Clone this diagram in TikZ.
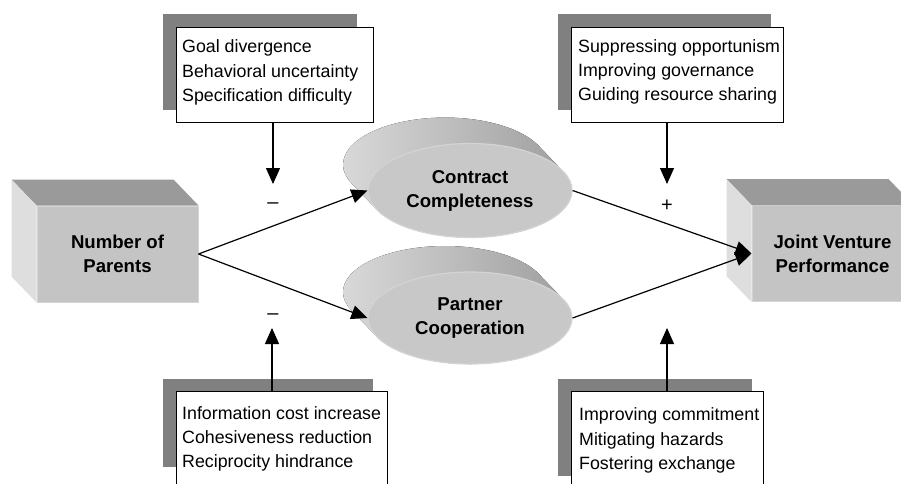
\documentclass[tikz,border=0pt]{standalone}
\usepackage{fontspec}
\setmainfont{Liberation Sans}
\usetikzlibrary{arrows.meta,calc,shapes.geometric}

\definecolor{frontgray}{HTML}{C4C4C4}
\definecolor{topgray}{HTML}{9A9A9A}
\definecolor{sidegray}{HTML}{DEDEDE}
\definecolor{rimgray}{HTML}{D4D4D4}
\definecolor{shadowgray}{HTML}{808080}
\definecolor{discgray}{HTML}{C8C8C8}
\definecolor{extlight}{HTML}{DCDCDC}
\definecolor{extdark}{HTML}{9A9A9A}

\tikzset{
  boxface/.style={rectangle, fill=frontgray, draw=rimgray, line width=1pt,
    minimum width=161pt, minimum height=96pt, inner sep=0pt, align=center,
    font=\bfseries\fontsize{18.6}{24}\selectfont},
  topface/.style={fill=topgray},
  sideface/.style={fill=sidegray},
  disc/.style={ellipse, fill=discgray, draw=rimgray, line width=1.2pt,
    minimum width=204pt, minimum height=94pt, inner sep=0pt, align=center,
    font=\bfseries\fontsize{18.6}{24}\selectfont},
  discbody/.style={left color=extlight, right color=extdark},
  notebox/.style={rectangle, fill=white, draw=black, line width=0.8pt, inner sep=0pt},
  notetext/.style={anchor=west, align=left, inner sep=0pt,
    font=\fontsize{17.8}{24.3}\selectfont},
  shadowbox/.style={fill=shadowgray},
  link/.style={line width=1.2pt, -{Triangle[length=16pt,width=14pt]}},
  sign/.style={font=\fontsize{20}{20}\selectfont, inner sep=0pt}
}

\begin{document}
\begin{tikzpicture}[x=1pt,y=-1pt]
\useasboundingbox (0,0) rectangle (901,483);
\clip (0,0) rectangle (901,483);
\fill[white] (0,0) rectangle (901,483);

% ---- note boxes with drop shadows ----
\fill[shadowbox] (163,14) rectangle (357,110);
\node[notebox, minimum width=197pt, minimum height=95pt] (tl) at (274.5,74.5) {};
\node[notetext] (tltext) at (182,72.5) {Goal divergence\\Behavioral uncertainty\\Specification difficulty};

\fill[shadowbox] (558,14) rectangle (771,110);
\node[notebox, minimum width=212pt, minimum height=95pt] (tr) at (677,74.5) {};
\node[notetext] (trtext) at (578,72) {Suppressing opportunism\\Improving governance\\Guiding resource sharing};

\fill[shadowbox] (163,379) rectangle (373,467);
\node[notebox, minimum width=211pt, minimum height=120pt] (bl) at (281.5,451) {};
\node[notetext] (bltext) at (182,439) {Information cost increase\\Cohesiveness reduction\\Reciprocity hindrance};

\fill[shadowbox] (558,379) rectangle (752,476);
\node[notebox, minimum width=192pt, minimum height=120pt] (br) at (667,451) {};
\node[notetext] (brtext) at (579,440.5) {Improving commitment\\Mitigating hazards\\Fostering exchange};

% ---- solid boxes ----
\node[boxface] (np) at (117.5,254) {Number of\\Parents};
\fill[topface] (np.north west) -- (np.north east) -- ++(-25,-26)
  -- ($(np.north west)+(-25,-26)$) -- cycle;
\fill[sideface] (np.north west) -- (np.south west) -- ++(-25,-26)
  -- ($(np.north west)+(-25,-26)$) -- cycle;

\node[boxface] (jv) at (832.5,253.5) {Joint Venture\\Performance};
\fill[topface] (jv.north west) -- (jv.north east) -- ++(-25,-26)
  -- ($(jv.north west)+(-25,-26)$) -- cycle;
\fill[sideface] (jv.north west) -- (jv.south west) -- ++(-25,-26)
  -- ($(jv.north west)+(-25,-26)$) -- cycle;

% ---- extruded discs: hull of the back and front ellipses ----
\coordinate (ccpos) at (470,190.5);
\coordinate (pcpos) at (470,318);
\fill[discbody] ($(ccpos)+(68.3,-45.0)$)
  arc[start angle=-23.9, end angle=-203.9, x radius=102, y radius=47]
  -- ($(ccpos)+(-93.3,19.0)$)
  arc[start angle=156.1, end angle=-23.9, x radius=102, y radius=47]
  -- cycle;
\fill[discbody] ($(pcpos)+(68.57,-44.3)$)
  arc[start angle=-23.45, end angle=-203.45, x radius=102, y radius=46]
  -- ($(pcpos)+(-93.57,18.3)$)
  arc[start angle=156.55, end angle=-23.45, x radius=102, y radius=46]
  -- cycle;
\node[disc] (cc) at (ccpos) {Contract\\Completeness};
\node[disc, minimum height=92pt] (pc) at (pcpos) {Partner\\Cooperation};

% ---- connectors ----
\draw[link] (np.east) -- (cc.west);
\draw[link] (np.east) -- (pc.west);
\draw[link] (cc.east) -- (jv.west);
\draw[link] (pc.east) -- (jv.west);

\coordinate (t1) at (273,184);
\coordinate (t2) at (667,184);
\coordinate (b1) at (272,328);
\coordinate (b2) at (667,328);
\draw[link] (tl.south -| t1) -- (t1);
\draw[link] (tr.south -| t2) -- (t2);
\draw[link] (bl.north -| b1) -- (b1);
\draw[link] (br.north -| b2) -- (b2);

% ---- signs ----
\node[sign] (s1) at (273,206) {–};
\node[sign] (s2) at (667,206) {+};
\node[sign] (s3) at (273,317) {–};
\end{tikzpicture}
\end{document}
